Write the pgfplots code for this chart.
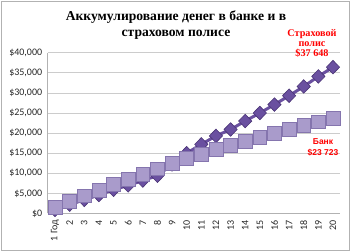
\documentclass[border=0pt]{standalone}
\usepackage{pgfplots}
\pgfplotsset{compat=1.18}
\usepackage{fontspec}
\setmainfont{Carlito}
\newfontfamily\serifb{Liberation Serif}
\newfontfamily\sansb{Liberation Sans}
\definecolor{lav}{HTML}{A99BCB}
\definecolor{lavd}{HTML}{8575AE}
\definecolor{purp}{HTML}{6A50A0}
\definecolor{purpd}{HTML}{4A3475}
\begin{document}
\begin{tikzpicture}
\draw[gray!60, line width=0.8pt] (1pt,1pt) rectangle (349pt,250pt);
\begin{axis}[at={(47.7pt,37.5pt)}, anchor=south west, scale only axis,
  width=292.6pt, height=160.8pt,
  xmin=0.5, xmax=20.5, ymin=0, ymax=40000,
  scaled y ticks=false,
  xtick={1,...,20},
  xticklabels={1 Год,2,3,4,5,6,7,8,9,10,11,12,13,14,15,16,17,18,19,20},
  ytick={0,5000,10000,15000,20000,25000,30000,35000,40000},
  yticklabels={\$0,{\$5,000},{\$10,000},{\$15,000},{\$20,000},{\$25,000},{\$30,000},{\$35,000},{\$40,000}},
  ymajorgrids, grid style={gray!40, line width=0.6pt},
  axis lines*=left, axis line style={gray!60, line width=0.6pt},
  major tick length=0pt,
  tick label style={font=\fontsize{10}{11}\selectfont, text=black!85},
  xticklabel style={rotate=90, anchor=east},
  xticklabel shift=3pt,
  yticklabel shift=2pt,
  clip=false,
]
\addplot[purp, line width=3pt, mark=diamond*, mark size=6.8pt,
  mark options={fill=purp, draw=purpd, line width=0.6pt, xscale=1.3}] coordinates {
(1,900) (2,2200) (3,3400) (4,4600) (5,5900) (6,7000) (7,8200) (8,9400) (9,12200) (10,15000)
(11,17200) (12,19300) (13,20900) (14,23000) (15,25000) (16,27100) (17,29300) (18,31600) (19,34100) (20,36400)};
\addplot[lav, line width=3pt, mark=square*, mark size=6.9pt,
  mark options={fill=lav, draw=lavd, line width=0.6pt}] coordinates {
(1,1500) (2,3000) (3,4400) (4,5800) (5,7200) (6,8500) (7,9800) (8,11100) (9,12400) (10,13700)
(11,14800) (12,15900) (13,16900) (14,17900) (15,18900) (16,19900) (17,20900) (18,21900) (19,22800) (20,23723)};
\end{axis}
\node[font=\serifb\bfseries\fontsize{13.6}{16}\selectfont, align=center] at (176pt,225.5pt)
  {Аккумулирование денег в банке и в\\страховом полисе};
\node[font=\serifb\bfseries\fontsize{10.2}{10}\selectfont, align=center, text=red] at (312pt,208pt)
  {Страховой\\полис\\\$37 648};
\node[font=\sansb\bfseries\fontsize{8.5}{11}\selectfont, align=center, text=red] at (323pt,104pt)
  {Банк\\\$23 723};
\pgfresetboundingbox
\useasboundingbox (0pt,0pt) rectangle (350pt,251pt);
\end{tikzpicture}
\end{document}
